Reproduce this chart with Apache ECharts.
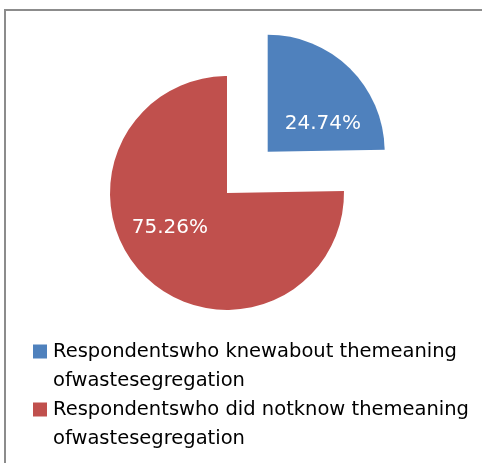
<!DOCTYPE html>
<html>
<head>
<meta charset="utf-8">
<style>
  html, body { margin: 0; padding: 0; background: #ffffff; }
  #chart { width: 482px; height: 463px; }
</style>
<script src="https://cdn.jsdelivr.net/npm/echarts@6/dist/echarts.min.js"></script>
</head>
<body>
<div id="chart"></div>
<script>
// Survey answers on knowing what waste segregation means
const categories = [
  'Respondentswho knewabout themeaning ofwastesegregation',
  'Respondentswho did notknow themeaning ofwastesegregation'
];
const shares = [24.74, 75.26];
const colors = ['#4f81bd', '#c0504d'];

const chart = echarts.init(document.getElementById('chart'), null, { renderer: 'canvas' });

// per-slice nudges for the percentage labels
const labelShift = [[12, 16], [-14, -9]];

// legend rich styles: a coloured square per entry, plus an indent for wrapped lines
const legendRich = {
  gap: { width: 6, height: 14, lineHeight: 29 },
  ind: { width: 20, height: 14, lineHeight: 29 },
  t: { fontFamily: 'DejaVu Sans', fontSize: 19.5, color: '#000000', lineHeight: 29 }
};
colors.forEach(function (c, i) {
  legendRich['m' + i] = { width: 14, height: 14, backgroundColor: c, lineHeight: 29 };
});

chart.setOption({
  animation: false,
  backgroundColor: '#ffffff',
  color: colors,
  graphic: [{
    type: 'rect',
    shape: { x: 5, y: 10, width: 500, height: 480 },
    style: { fill: 'none', stroke: '#8c8c8c', lineWidth: 2 },
    silent: true
  }],
  legend: {
    orient: 'vertical',
    left: 28,
    top: 337,
    height: 140,
    padding: 0,
    itemWidth: 0,
    itemHeight: 0,
    itemGap: 0,
    icon: 'none',
    selectedMode: false,
    data: categories,
    formatter: function (name) {
      const i = categories.indexOf(name);
      const cut = name.lastIndexOf(' ');
      return '{m' + i + '|}{gap|}{t|' + name.slice(0, cut) + '}\n{ind|}{t|' + name.slice(cut + 1) + '}';
    },
    textStyle: {
      fontFamily: 'DejaVu Sans',
      fontSize: 19.5,
      color: '#000000',
      lineHeight: 29,
      rich: legendRich
    }
  },
  series: [{
    type: 'pie',
    center: [227, 193],
    radius: 117,
    startAngle: 90,
    clockwise: true,
    selectedMode: 'single',
    selectedOffset: 58,
    silent: true,
    avoidLabelOverlap: false,
    label: {
      show: true,
      position: 'inside',
      color: '#ffffff',
      fontFamily: 'DejaVu Sans',
      fontSize: 20,
      formatter: function (p) { return p.value.toFixed(2) + '%'; }
    },
    labelLine: { show: false },
    labelLayout: function (params) {
      const s = labelShift[params.dataIndex];
      return { dx: s[0], dy: s[1] };
    },
    emphasis: { disabled: true },
    itemStyle: { borderWidth: 0 },
    data: categories.map(function (name, i) {
      return { name: name, value: shares[i], selected: i === 0 };
    })
  }]
});
</script>
</body>
</html>
